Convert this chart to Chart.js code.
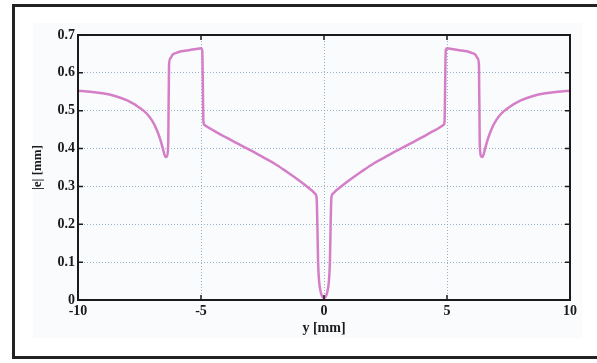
<!DOCTYPE html>
<html>
<head>
<meta charset="utf-8">
<script src="https://cdn.jsdelivr.net/npm/chart.js@4/dist/chart.umd.min.js"></script>
<style>
  html, body { margin: 0; padding: 0; background: #fff; }
  #wrap { position: relative; width: 597px; height: 363px; overflow: hidden; }
  #box {
    position: absolute; left: 12px; top: 4px; width: 620px; height: 349px;
    border-left: 3px solid #222; border-top: 3px solid #222; border-bottom: 3px solid #222;
  }
  #c { position: absolute; left: 0; top: 0; }
</style>
</head>
<body>
<div id="wrap">
  <div id="box"></div>
  <canvas id="c" width="597" height="363"></canvas>
</div>
<script>
// 横坐标 y [mm]
const yPos = [
  -10, -9.5, -9, -8.5, -8, -7.5, -7.2, -7, -6.8, -6.65, -6.55, -6.48, -6.43, -6.38, -6.33, -6.3,
  -6.25, -6.15, -6, -5.8, -5.5, -5.2, -5, -4.95, -4.9, -4.87, -4.5, -4, -3.5, -3, -2.5, -2,
  -1.5, -1, -0.7, -0.5, -0.35, -0.3, -0.27, -0.24, -0.2, -0.13, -0.06, 0,
  0.06, 0.13, 0.2, 0.24, 0.27, 0.3, 0.35, 0.5, 0.7, 1, 1.5, 2, 2.5, 3, 3.5, 4, 4.5,
  4.87, 4.9, 4.95, 5, 5.2, 5.5, 5.8, 6, 6.15, 6.25, 6.3, 6.33, 6.38, 6.43, 6.48, 6.55,
  6.65, 6.8, 7, 7.2, 7.5, 8, 8.5, 9, 9.5, 10
];
// 纵坐标 |e| [mm]
const eAbs = [
  0.553, 0.550, 0.546, 0.539, 0.527, 0.508, 0.492, 0.475, 0.450, 0.423, 0.400, 0.383, 0.378, 0.380, 0.420, 0.620,
  0.638, 0.648, 0.653, 0.657, 0.660, 0.663, 0.665, 0.660, 0.470, 0.463, 0.448, 0.430, 0.413, 0.396, 0.378, 0.360,
  0.338, 0.315, 0.300, 0.290, 0.280, 0.270, 0.200, 0.100, 0.050, 0.020, 0.008, 0.005,
  0.008, 0.020, 0.050, 0.100, 0.200, 0.270, 0.280, 0.290, 0.300, 0.315, 0.338, 0.360, 0.378, 0.396, 0.413, 0.430, 0.448,
  0.463, 0.470, 0.660, 0.665, 0.663, 0.660, 0.657, 0.653, 0.648, 0.638, 0.620, 0.420, 0.380, 0.378, 0.383, 0.400,
  0.423, 0.450, 0.475, 0.492, 0.508, 0.527, 0.539, 0.546, 0.550, 0.553
];

const xTicks = [-10, -5, 0, 5, 10];
const xTickLabels = ['-10', '-5', '0', '5', '10'];
const yTicks = [0, 0.1, 0.2, 0.3, 0.4, 0.5, 0.6, 0.7];
const yTickLabels = ['0', '0.1', '0.2', '0.3', '0.4', '0.5', '0.6', '0.7'];

const tickFont = { family: 'Liberation Serif', size: 14, weight: 'bold' };
const gridColor = 'rgba(130,160,185,0.8)';

// 浅色底
const haze = {
  id: 'haze',
  beforeDraw(chart) {
    const { ctx, chartArea: a } = chart;
    ctx.save();
    ctx.fillStyle = '#fafbfd';
    ctx.fillRect(a.left - 45, a.top - 12, a.right - a.left + 57, a.bottom - a.top + 50);
    ctx.restore();
  }
};

// 外框和朝内的刻度
const frame = {
  id: 'frame',
  afterDraw(chart) {
    const { ctx, chartArea: a, scales: { x, y } } = chart;
    ctx.save();
    ctx.strokeStyle = '#1b1b1b';
    ctx.lineWidth = 2;
    ctx.strokeRect(a.left, a.top, a.right - a.left, a.bottom - a.top);
    ctx.lineWidth = 1.5;
    ctx.beginPath();
    xTicks.forEach(v => {
      const px = x.getPixelForValue(v);
      ctx.moveTo(px, a.bottom); ctx.lineTo(px, a.bottom - 5);
      ctx.moveTo(px, a.top); ctx.lineTo(px, a.top + 5);
    });
    yTicks.forEach(v => {
      const py = y.getPixelForValue(v);
      ctx.moveTo(a.left, py); ctx.lineTo(a.left + 5, py);
      ctx.moveTo(a.right, py); ctx.lineTo(a.right - 5, py);
    });
    ctx.stroke();
    ctx.restore();
  }
};

function edgeless(values) {
  return ctx => {
    const v = ctx.tick && ctx.tick.value;
    return (v === values[0] || v === values[values.length - 1]) ? 'rgba(0,0,0,0)' : gridColor;
  };
}

new Chart(document.getElementById('c').getContext('2d'), {
  type: 'scatter',
  data: {
    datasets: [{
      data: yPos.map((v, i) => ({ x: v, y: eAbs[i] })),
      showLine: true,
      borderColor: '#d57ec8',
      borderWidth: 2.5,
      pointRadius: 0,
      cubicInterpolationMode: 'monotone'
    }]
  },
  options: {
    responsive: false,
    animation: false,
    layout: { padding: { left: 26, top: 35, right: 27, bottom: 22 } },
    plugins: { legend: { display: false }, tooltip: { enabled: false } },
    scales: {
      x: {
        type: 'linear',
        min: -10,
        max: 10,
        afterBuildTicks: s => { s.ticks = xTicks.map(v => ({ value: v })); },
        afterFit: s => { s.height = 41; },
        ticks: {
          font: tickFont,
          color: '#1a1a1a',
          padding: 3,
          maxRotation: 0,
          callback: (v) => xTickLabels[xTicks.indexOf(v)]
        },
        grid: { color: edgeless(xTicks), lineWidth: 1, drawTicks: false },
        border: { display: false, dash: [1, 2] },
        title: {
          display: true,
          text: 'y [mm]',
          font: { family: 'Liberation Serif', size: 14, weight: 'bold' },
          color: '#1a1a1a',
          padding: { top: 0, bottom: 4 }
        }
      },
      y: {
        type: 'linear',
        min: 0,
        max: 0.7,
        afterBuildTicks: s => { s.ticks = yTicks.map(v => ({ value: v })); },
        afterFit: s => { s.width = 52; },
        ticks: {
          font: tickFont,
          color: '#1a1a1a',
          padding: 3,
          callback: (v) => yTickLabels[yTicks.indexOf(v)]
        },
        grid: { color: edgeless(yTicks), lineWidth: 1, drawTicks: false },
        border: { display: false, dash: [1, 2] },
        title: {
          display: true,
          text: '|e| [mm]',
          font: { family: 'Liberation Serif', size: 13, weight: 'bold' },
          color: '#1a1a1a',
          padding: { top: 4, bottom: 0 }
        }
      }
    }
  },
  plugins: [haze, frame]
});
</script>
</body>
</html>
